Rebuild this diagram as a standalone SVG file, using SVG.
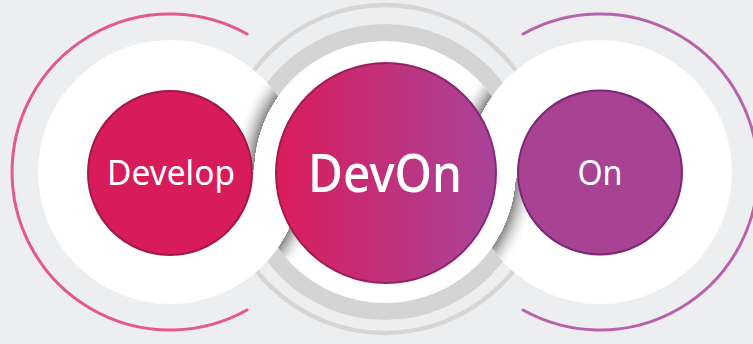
<svg xmlns="http://www.w3.org/2000/svg" width="753" height="344" viewBox="0 0 753 344">
  <style>
    .lbl { font-family: "Noto Sans", "Liberation Sans", Arial, sans-serif; fill: #FFFFFF; text-anchor: middle; }
    .white { fill: #FFFFFF; }
    .arc { fill: none; stroke-width: 3; stroke-linecap: round; }
  </style>
  <defs>
    <linearGradient id="gDevOn" x1="275" y1="0" x2="497" y2="0" gradientUnits="userSpaceOnUse">
      <stop offset="0" stop-color="#DA1C5C"/>
      <stop offset="1" stop-color="#A8449A"/>
    </linearGradient>
    <linearGradient id="gDevOnStroke" x1="275" y1="0" x2="497" y2="0" gradientUnits="userSpaceOnUse">
      <stop offset="0" stop-color="#A8184C"/>
      <stop offset="1" stop-color="#86287E"/>
    </linearGradient>
    <radialGradient id="shC" cx="385" cy="172" r="153" gradientUnits="userSpaceOnUse">
      <stop offset="0.855" stop-color="#7A7A7A" stop-opacity="0"/>
      <stop offset="0.856" stop-color="#7A7A7A" stop-opacity="0.9"/>
      <stop offset="0.92" stop-color="#B0B0B0" stop-opacity="0.5"/>
      <stop offset="1" stop-color="#FFFFFF" stop-opacity="0"/>
    </radialGradient>
    <radialGradient id="shL" cx="170" cy="172" r="154" gradientUnits="userSpaceOnUse">
      <stop offset="0.856" stop-color="#7A7A7A" stop-opacity="0"/>
      <stop offset="0.857" stop-color="#7A7A7A" stop-opacity="0.9"/>
      <stop offset="0.92" stop-color="#B0B0B0" stop-opacity="0.5"/>
      <stop offset="1" stop-color="#FFFFFF" stop-opacity="0"/>
    </radialGradient>
    <radialGradient id="shR" cx="600" cy="172" r="154" gradientUnits="userSpaceOnUse">
      <stop offset="0.856" stop-color="#7A7A7A" stop-opacity="0"/>
      <stop offset="0.857" stop-color="#7A7A7A" stop-opacity="0.9"/>
      <stop offset="0.92" stop-color="#B0B0B0" stop-opacity="0.5"/>
      <stop offset="1" stop-color="#FFFFFF" stop-opacity="0"/>
    </radialGradient>
    <clipPath id="clipCenter">
      <circle cx="385" cy="172" r="131"/>
    </clipPath>
    <clipPath id="clipRight">
      <circle cx="600" cy="172" r="132"/>
    </clipPath>
    <clipPath id="clipLeft">
      <circle cx="170" cy="172" r="132"/>
    </clipPath>
  </defs>

  <rect x="0" y="0" width="753" height="344" fill="#EDEEF0"/>

  <!-- center decorative gray rings -->
  <circle cx="385" cy="169" r="164" fill="none" stroke="#D6D6D6" stroke-width="4.5"/>
  <circle cx="385" cy="172" r="148" fill="#D4D4D4"/>

  <!-- outer colored arcs -->
  <path class="arc" d="M247,34 A158,158 0 1,0 247,310" stroke="#E4588C"/>
  <path class="arc" d="M523,34 A158,158 0 1,1 523,310" stroke="#B962AC"/>

  <!-- white plates -->
  <circle class="white" cx="170" cy="172" r="132"/>
  <circle class="white" cx="600" cy="172" r="132"/>
  <circle class="white" cx="385" cy="172" r="131"/>

  <!-- interlock shadows -->
  <g clip-path="url(#clipLeft)">
    <rect x="230" y="60" width="80" height="110" fill="url(#shC)"/>
  </g>
  <g clip-path="url(#clipCenter)">
    <rect x="260" y="180" width="80" height="100" fill="url(#shL)"/>
  </g>
  <g clip-path="url(#clipCenter)">
    <rect x="440" y="60" width="80" height="110" fill="url(#shR)"/>
  </g>
  <g clip-path="url(#clipRight)">
    <rect x="460" y="178" width="80" height="100" fill="url(#shC)"/>
  </g>

  <g id="develop">
    <circle cx="170" cy="173" r="82" fill="#D81B5A" stroke="#A3184B" stroke-width="2"/>
    <text class="lbl" x="171" y="185" font-size="35" textLength="128" lengthAdjust="spacingAndGlyphs">Develop</text>
  </g>

  <g id="devon">
    <circle cx="386" cy="173" r="110" fill="url(#gDevOn)" stroke="url(#gDevOnStroke)" stroke-width="2"/>
    <text class="lbl" x="385" y="192" font-size="53" font-weight="500" textLength="154" lengthAdjust="spacingAndGlyphs">DevOn</text>
  </g>

  <g id="on">
    <circle cx="600" cy="172.5" r="82" fill="#A84393" stroke="#7D2677" stroke-width="2"/>
    <text class="lbl" x="600" y="185" font-size="35" textLength="45" lengthAdjust="spacingAndGlyphs">On</text>
  </g>

  <g id="connectors"></g>
</svg>
